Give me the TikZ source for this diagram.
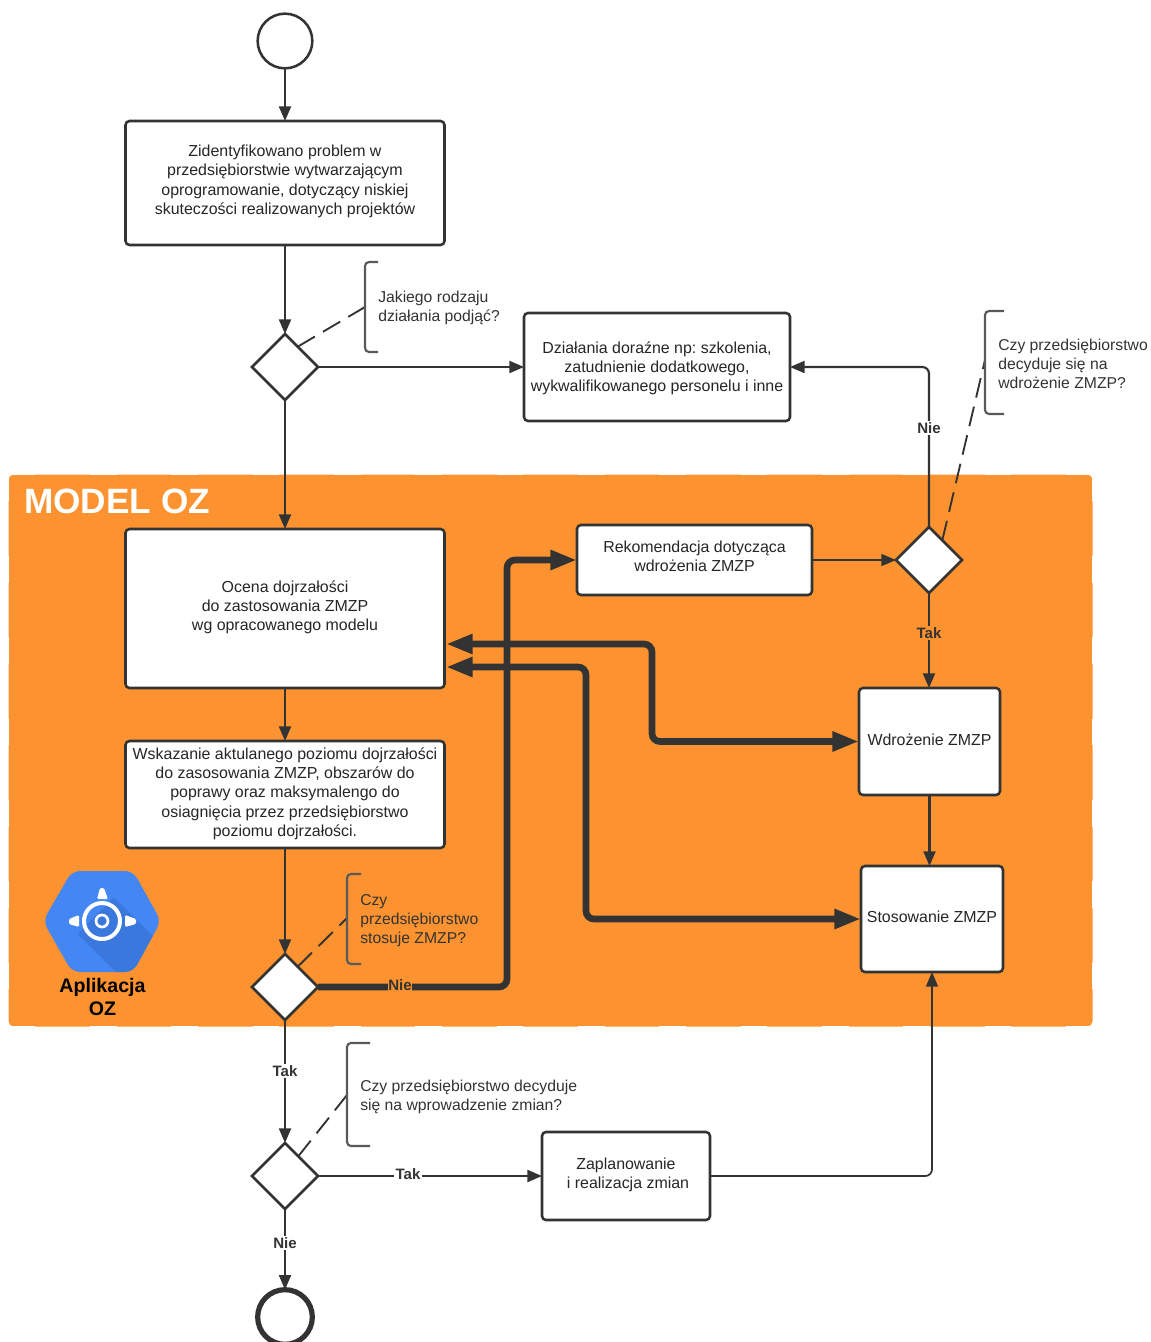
\documentclass[tikz,border=0pt]{standalone}
\usepackage{fontspec}
\setmainfont{Liberation Sans}
\usetikzlibrary{arrows.meta,shapes.geometric,calc}
\definecolor{dk}{HTML}{333333}
\definecolor{org}{HTML}{FD9330}
\definecolor{blu}{HTML}{4486F4}
\definecolor{blud}{HTML}{3B78DE}
\frenchspacing
\newcommand\rbx[2]{\raisebox{#1}[\height][\depth]{#2}}
\tikzset{
  x=0.75pt,y=-0.75pt,
  txt/.style={font=\fontsize{11.95}{14.4}\selectfont,align=center,text=black!85},
  boxn/.style={draw=dk,fill=white,line width=1.9pt,rounded corners=3pt,inner sep=0pt,outer sep=0pt,txt},
  dec/.style={draw=dk,fill=white,shape=diamond,aspect=1,line width=1.9pt,inner sep=0pt,outer sep=0pt,minimum width=49.5pt,minimum height=49.5pt},
  conn/.style={draw=dk,line width=1.6pt,rounded corners=5pt,-{Triangle[length=11pt,width=9pt]}},
  connt/.style={draw=dk,line width=1.3pt,rounded corners=5pt,-{Triangle[length=11pt,width=9pt]}},
  heavy/.style={draw=dk,line width=5pt,rounded corners=6pt,-{Triangle[length=20pt,width=14pt]}},
  heavyb/.style={draw=dk,line width=5pt,rounded corners=6pt,{Triangle[length=20pt,width=14pt]}-{Triangle[length=20pt,width=14pt]}},
  lab/.style={font=\bfseries\fontsize{11.3}{13}\selectfont,text=dk,inner sep=1pt},
  note/.style={font=\fontsize{11.8}{14.4}\selectfont,align=left,text=dk,anchor=west,inner sep=0pt},
  brack/.style={draw=black!65,line width=1.6pt,rounded corners=3pt},
  dsh/.style={draw=dk,line width=1.4pt,dash pattern=on 15pt off 7pt},
}
\begin{document}
\begin{tikzpicture}
\useasboundingbox (0,0) rectangle (1151,1342);
% background area
\node[draw=none,fill=org,rounded corners=4pt,minimum width=813pt,minimum height=414pt,inner sep=0pt] (area) at (550.5,750.5) {};
\draw[white,line width=1.1pt,dash pattern=on 20pt off 41pt] (8.5,474.5) -- (1092.5,474.5);
\draw[white,line width=1.1pt,dash pattern=on 20pt off 41pt] (8.5,1026.5) -- (1092.5,1026.5);
\draw[white,line width=1.1pt,dash pattern=on 20pt off 41pt] (8.5,474.5) -- (8.5,1026.5);
\draw[white,line width=1.1pt,dash pattern=on 20pt off 41pt] (1092.5,474.5) -- (1092.5,1026.5);
\node[anchor=west,inner sep=0pt,text=white,font=\bfseries\fontsize{26.4}{30}\selectfont] (title) at (24,501) {MODEL OZ};

% logo
\begin{scope}
\clip[rounded corners=6pt] (43,921) -- (72,871) -- (133,871) -- (161,921) -- (133,972) -- (72,972) -- cycle;
\fill[blu] (40,865) rectangle (165,978);
\fill[blud] (114,897) -- (165,948) -- (165,978) -- (122,978) -- (78,934) -- cycle;
\end{scope}
\draw[white,line width=3pt] (102,921) circle[radius=18];
\draw[white,line width=2pt] (102,921) circle[radius=6];
\fill[white,rounded corners=1pt] (97,899) -- (100,888) -- (104,888) -- (108,899) -- cycle;
\fill[white,rounded corners=1pt] (79,915) -- (69,919) -- (69,924) -- (79,927) -- cycle;
\fill[white,rounded corners=1pt] (125,915) -- (136,919) -- (136,924) -- (125,927) -- cycle;
\node[align=center,text=black,font=\bfseries\fontsize{14.7}{17.2}\selectfont,inner sep=0pt] (applbl) at (102.5,997) {Aplikacja\\OZ};

% nodes
\node[draw=dk,fill=white,shape=circle,line width=1.9pt,minimum size=41pt,inner sep=0pt,outer sep=0pt] (start) at (285,41) {};
\node[boxn,minimum width=239.25pt,minimum height=93pt] (a) at (285,183) {\rbx{1pt}{\begin{tabular}{@{}c@{}}Zidentyfikowano problem w\\przedsiębiorstwie wytwarzającym\\oprogramowanie, dotyczący niskiej\\skuteczości realizowanych projektów\end{tabular}}};
\node[dec] (d1) at (285,367) {};
\node[boxn,minimum width=199.5pt,minimum height=81pt] (doraz) at (657,367) {\rbx{-1.2pt}{\begin{tabular}{@{}c@{}}Działania doraźne np: szkolenia,\\zatudnienie dodatkowego,\\wykwalifikowanego personelu i inne\end{tabular}}};
\node[boxn,minimum width=239.25pt,minimum height=119.25pt] (ocena) at (285,608.5) {\rbx{0.5pt}{\begin{tabular}{@{}c@{}}Ocena dojrzałości\\do zastosowania ZMZP\\wg opracowanego modelu\end{tabular}}};
\node[boxn,minimum width=239.25pt,minimum height=80.25pt] (wsk) at (285,794.5) {\rbx{0.35pt}{\begin{tabular}{@{}c@{}}Wskazanie aktulanego poziomu dojrzałości\\do zasosowania ZMZP, obszarów do\\poprawy oraz maksymalengo do\\osiagnięcia przez przedsiębiorstwo\\poziomu dojrzałości.\end{tabular}}};
\node[boxn,minimum width=176.25pt,minimum height=52.5pt] (rek) at (694.5,560) {\rbx{1.15pt}{\begin{tabular}{@{}c@{}}Rekomendacja dotycząca\\wdrożenia ZMZP\end{tabular}}};
\node[dec] (d2) at (929,560) {};
\node[boxn,minimum width=105.75pt,minimum height=80.25pt] (wdr) at (929.5,741.5) {\rbx{1.5pt}{Wdrożenie ZMZP}};
\node[boxn,minimum width=106.5pt,minimum height=79.5pt] (sto) at (932,919) {\rbx{1.5pt}{Stosowanie ZMZP}};
\node[dec] (d3) at (285,987) {};
\node[dec] (d4) at (285,1176) {};
\node[boxn,minimum width=126pt,minimum height=66pt] (zap) at (626,1176) {\rbx{0.75pt}{\begin{tabular}{@{}c@{}}Zaplanowanie\\\hspace{3pt}i realizacja zmian\end{tabular}}};
\node[draw=dk,fill=white,shape=circle,line width=3.9pt,minimum size=41pt,inner sep=0pt,outer sep=0pt] (stop) at (285,1317) {};

% helper coordinates
\coordinate (o1) at (446,644);
\coordinate (o2) at (446,667);
\coordinate (b1) at (365,307);
\coordinate (b2) at (985,360);
\coordinate (b3) at (347,918);
\coordinate (b4) at (347,1095);
\coordinate (s1) at (929.5,866);

% connectors
\draw[conn] (start) -- (a);
\draw[conn] (a) -- (d1);
\draw[conn] (d1) -- (doraz);
\draw[conn] (d1) -- (ocena);
\draw[conn] (ocena) -- (wsk);
\draw[conn] (wsk) -- (d3);
\draw[conn] (d3) -- (d4);
\draw[conn] (d4) -- (zap);
\draw[conn] (d4) -- (stop);
\draw[connt] (rek) -- (d2);
\draw[conn] (d2.south) -- (d2.south |- wdr.north);
\draw[conn] (wdr.south) -- (s1);
\draw[conn] (d2.north) -- (d2.north |- doraz.east) -- (doraz.east);
\draw[connt] (zap.east) -- (zap.east -| sto.south) -- (sto.south);
\draw[heavy] (d3.east) -- (507,987) -- (507,560) -- (rek.west);
\draw[heavyb] (o1) -- (652,644) -- (652,741.5) -- (wdr.west);
\draw[heavyb] (o2) -- (586,667) -- (586,919) -- (sto.west);

% dashed annotation leaders
\draw[dsh] (d1.58) -- (b1);
\draw[dsh] (d2.56) -- (b2);
\draw[dsh] (d3.58) -- (b3);
\draw[dsh] (d4.56) -- (b4);

% brackets
\draw[brack] (378,262) -- (365,262) -- (365,352) -- (378,352);
\draw[brack] (1004,311) -- (985,311) -- (985,414) -- (1004,414);
\draw[brack] (361,874) -- (347,874) -- (347,964) -- (361,964);
\draw[brack] (370,1043) -- (347,1043) -- (347,1146) -- (370,1146);

% notes
\node[note] (n1) at (378,308) {Jakiego rodzaju\\działania podjąć?};
\node[note] (n2) at (998,364) {Czy przedsiębiorstwo\\decyduje się na\\wdrożenie ZMZP?};
\node[note] (n3) at (360,920.5) {Czy\\przedsiębiorstwo\\stosuje ZMZP?};
\node[note] (n4) at (360,1097) {Czy przedsiębiorstwo decyduje\\się na wprowadzenie zmian?};

% labels
\node[lab,fill=white] (l1) at (929,428) {Nie};
\node[lab,fill=org] (l2) at (929,633) {Tak};
\node[lab,fill=org,inner sep=0.5pt] (l3) at (400,985) {Nie};
\node[lab,fill=white] (l4) at (285,1071) {Tak};
\node[lab,fill=white] (l5) at (408,1174) {Tak};
\node[lab,fill=white] (l6) at (285,1243) {Nie};
\end{tikzpicture}
\end{document}
